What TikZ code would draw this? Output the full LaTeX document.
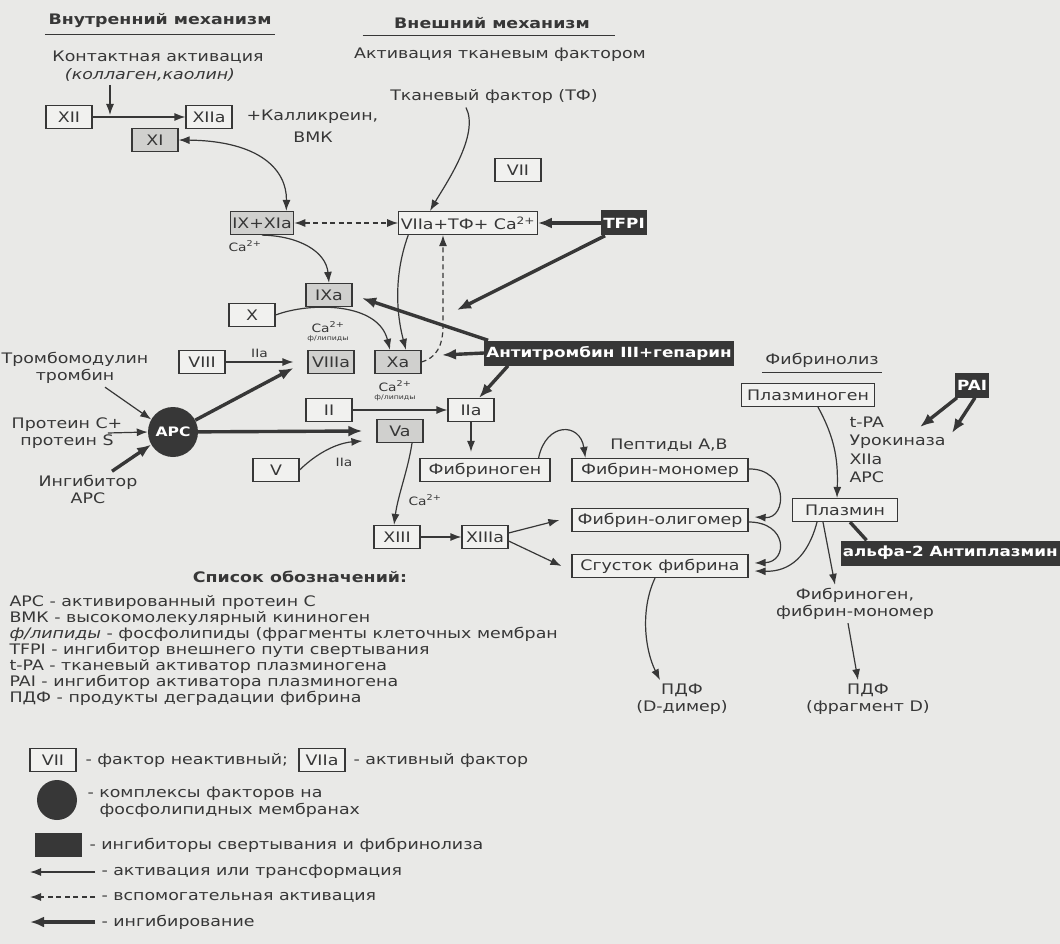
\documentclass[tikz,border=0pt]{standalone}
\usepackage{fontspec}
\setmainfont{DejaVu Sans}[FakeStretch=1.2]
\usetikzlibrary{arrows.meta}
\definecolor{ink}{RGB}{55,55,55}
\definecolor{paper}{RGB}{233,233,231}
\definecolor{boxfill}{RGB}{241,241,239}
\definecolor{shade}{RGB}{208,208,206}

\begin{document}
\begin{tikzpicture}[x=1pt,y=-1pt,
        factor/.style={draw=ink,line width=1.2pt,fill=boxfill,text=ink,font=\fontsize{14.5}{17}\selectfont,inner sep=2pt,minimum width=46pt,minimum height=23pt},
        active/.style={factor,fill=shade},
        inhib/.style={fill=ink,text=white,font=\bfseries\fontsize{14}{17}\selectfont,inner sep=2pt,minimum height=25pt},
        label/.style={text=ink,font=\fontsize{14.5}{17}\selectfont},
        title/.style={text=ink,font=\bfseries\fontsize{14.5}{17}\selectfont},
        small/.style={text=ink,font=\fontsize{11.5}{12}\selectfont},
        tiny/.style={text=ink,font=\fontsize{6.5}{7}\selectfont},
        act/.style={-{Latex[length=11pt,width=8pt]},draw=ink,line width=1.2pt},
        bothact/.style={{Latex[length=11pt,width=8pt]}-{Latex[length=11pt,width=8pt]},draw=ink,line width=1.2pt},
        aux/.style={act,dash pattern=on 5pt off 3.5pt},
        block/.style={-{Latex[length=14pt,width=11pt]},draw=ink,line width=3.4pt}]
    \useasboundingbox (0,0) rectangle (1060,944);
    \fill[paper] (0,0) rectangle (1060,944);

    % headings
    \node[title] (inner) at (160,21) {Внутренний механизм};
    \draw[ink,line width=1.2pt] ([yshift=-3pt]inner.south west) -- ([yshift=-3pt]inner.south east);
    \node[title] (outer) at (492,23) {Внешний механизм};
    \draw[ink,line width=1.2pt] ([xshift=-28pt,yshift=-3pt]outer.south west) -- ([xshift=22pt,yshift=-3pt]outer.south east);
    \node[label] (contact) at (158,57) {Контактная активация};
    \node[label,font=\itshape\fontsize{14.5}{17}\selectfont] (kaolin) at (150,75) {(коллаген,каолин)};
    \node[label] (tfway) at (500,55) {Активация тканевым фактором};
    \node[label] (tf) at (494,97) {Тканевый фактор (ТФ)};

    % intrinsic pathway
    \node[factor] (xii) at (69,117) {XII};
    \node[factor] (xiia) at (209,117) {XIIa};
    \node[label,anchor=west] (kallik) at (243,117) {+Калликреин,};
    \node[label] (vmk) at (313,137) {ВМК};
    \node[active] (xi) at (155,140) {XI};
    \coordinate (contactdrop) at (110,115);
    \draw[act] (kaolin.south -| contactdrop) -- (contactdrop);
    \draw[act] (xii) -- (xiia);
    \node[active] (ixxia) at (262,223) {IX+XIa};
    \node[small] (ca1) at (245,246) {Ca\textsuperscript{2+}};
    \draw[bothact] (xi.east) .. controls (260,141) and (287,170) .. ([xshift=-8pt]ixxia.north east);

    % extrinsic pathway
    \node[factor] (vii) at (518,170) {VII};
    \node[factor] (viia) at (468,223) {VIIa+ТФ+ Ca\textsuperscript{2+}};
    \node[inhib] (tfpi) at (624,223) {TFPI};
    \draw[bothact,dash pattern=on 5pt off 3.5pt] (ixxia) -- (viia);
    \draw[act] ([xshift=-28pt]tf.south) .. controls (480,135) and (445,185) .. ([xshift=-38pt]viia.north);
    \draw[block] (tfpi) -- (viia);
    \coordinate (tfpistop) at (457,310);
    \draw[block] ([xshift=4pt]tfpi.south west) -- (tfpistop);

    % tenase and prothrombinase
    \node[active] (ixa) at (329,295) {IXa};
    \draw[act] (ixxia.south) .. controls (300,236) and (326,252) .. (ixa.north);
    \node[factor] (x) at (252,315) {X};
    \node[active] (viiia) at (331,362) {VIIIa};
    \node[active] (xa) at (398,362) {Xa};
    \node[small] (ca2) at (328,327) {Ca\textsuperscript{2+}};
    \node[tiny] (lip1) at (328,339) {ф/липиды};
    \draw[act] (x.east) .. controls (310,302) and (378,302) .. ([xshift=-8pt]xa.north);
    \node[factor] (viii) at (202,362) {VIII};
    \draw[act] (viii) -- node[small,above] {IIa} ([xshift=-14pt]viiia.west);
    \draw[act] ([xshift=10pt]viia.south west) .. controls (392,280) and (398,320) .. ([xshift=8pt]xa.north);
    \draw[aux] (xa.east) .. controls (436,358) and (443,346) .. (443,326) -- ([xshift=-25pt]viia.south);
    \node[inhib] (atiii) at (609,353) {Антитромбин III+гепарин};
    \coordinate (xastop) at (442,355);
    \draw[block,shorten >=10pt] ([xshift=4pt]atiii.north west) -- (ixa.east);
    \draw[block] (atiii.west) -- (xastop);
    \node[factor] (iia) at (471,410) {IIa};
    \draw[block] ([xshift=24pt]atiii.south west) -- ([xshift=8pt]iia.north);
    \node[small] (ca3) at (395,386) {Ca\textsuperscript{2+}};
    \node[tiny] (lip2) at (395,398) {ф/липиды};
    \node[factor] (ii) at (329,410) {II};
    \draw[act] (ii) -- (iia);
    \node[active] (va) at (400,431) {Va};
    \node[factor] (v) at (276,470) {V};
    \draw[act] (v.east) .. controls (318,452) and (338,443) .. ([xshift=-14pt,yshift=-10pt]va.west);
    \node[small] (iiav) at (344,462) {IIa};

    % protein C
    \node[circle,fill=ink,text=white,minimum size=50pt,inner sep=0pt,font=\bfseries\fontsize{13}{15}\selectfont] (apc) at (173,432) {APC};
    \node[label,align=center] (tmod) at (75,368) {Тромбомодулин\\тромбин};
    \node[label,align=center] (pcs) at (67,433) {Протеин C+\\протеин S};
    \node[label,align=center] (iapc) at (88,489) {Ингибитор\\APC};
    \draw[act] ([xshift=30pt]tmod.south) -- (apc.150);
    \draw[act] ([xshift=-18pt]pcs.east) -- (apc.west);
    \draw[block] ([xshift=24pt]iapc.north) -- (apc.210);
    \draw[block] (apc) -- ([xshift=-14pt,yshift=-6pt]viiia.west);
    \draw[block] (apc) -- ([xshift=-14pt]va.west);

    % fibrin formation
    \node[factor,minimum width=130pt] (fbg) at (485,470) {Фибриноген};
    \node[factor,minimum width=176pt] (mono) at (660,470) {Фибрин-мономер};
    \node[factor,minimum width=176pt] (oligo) at (660,520) {Фибрин-олигомер};
    \node[factor,minimum width=176pt] (clot) at (660,566) {Сгусток фибрина};
    \node[label] (pept) at (669,445) {Пептиды A,B};
    \draw[act] (iia.south) -- ([yshift=6pt]fbg.north -| iia.south);
    \draw[act] ([xshift=-12pt]fbg.north east) .. controls (546,422) and (580,422) .. ([xshift=14pt]mono.north west);
    \draw[act] ([yshift=1pt]mono.east) .. controls (788,468) and (788,519) .. ([xshift=6pt,yshift=3pt]oligo.east);
    \draw[act] ([yshift=-2pt]oligo.east) .. controls (788,522) and (788,562) .. ([xshift=6pt,yshift=3pt]clot.east);
    \node[factor] (xiii) at (397,537) {XIII};
    \node[factor] (xiiia) at (485,537) {XIIIa};
    \node[small] (ca4) at (425,500) {Ca\textsuperscript{2+}};
    \draw[act] ([xshift=12pt]va.south) .. controls (408,470) and (398,495) .. ([xshift=-3pt]xiii.north);
    \draw[act] (xiii) -- (xiiia);
    \draw[act] ([yshift=4pt]xiiia.east) -- ([xshift=-12pt]oligo.west);
    \draw[act] ([yshift=-4pt]xiiia.east) -- ([xshift=-10pt]clot.west);
    \node[label,align=center] (pdfd) at (682,699) {ПДФ\\(D-димер)};
    \draw[act] ([xshift=-5pt]clot.south) .. controls (640,610) and (645,650) .. ([xshift=-22pt]pdfd.north);

    % fibrinolysis
    \node[label] (fibrinolysis) at (822,360) {Фибринолиз};
    \draw[ink,line width=1pt] ([yshift=-2pt]fibrinolysis.south west) -- ([yshift=-2pt]fibrinolysis.south east);
    \node[factor,minimum width=133pt] (plg) at (808,395) {Плазминоген};
    \node[factor,minimum width=105pt] (plasmin) at (845,510) {Плазмин};
    \node[label,align=left,anchor=north west,font=\fontsize{14.5}{18.5}\selectfont] (activators) at (846,413) {t-PA\\Урокиназа\\XIIa\\APC};
    \draw[act] ([xshift=10pt]plg.south) .. controls (836,440) and (838,462) .. ([xshift=-8pt]plasmin.north);
    \node[inhib] (pai) at (972,385) {PAI};
    \coordinate (paistop1) at (920,427);
    \coordinate (paistop2) at (952,433);
    \draw[block] ([xshift=-15pt]pai.south) -- (paistop1);
    \draw[block] ([xshift=3pt]pai.south) -- (paistop2);
    \node[inhib,anchor=east] (a2ap) at (1060,553) {альфа-2 Антиплазмин};
    \draw[ink,line width=3.4pt] ([xshift=26pt]a2ap.north west) -- ([xshift=5pt]plasmin.south);
    \draw[act] ([xshift=-28pt]plasmin.south) .. controls (808,556) and (790,572) .. ([xshift=6pt,yshift=-5pt]clot.east);
    \node[label,align=center] (fdeg) at (855,604) {Фибриноген,\\фибрин-мономер};
    \draw[act] ([xshift=-22pt]plasmin.south) -- ([xshift=-20pt]fdeg.north);
    \node[label,align=center] (pdfdd) at (868,699) {ПДФ\\(фрагмент D)};
    \draw[act] ([xshift=-7pt]fdeg.south) -- ([xshift=-10pt]pdfdd.north);

    % legend
    \node[title] (legendtitle) at (300,577) {Список обозначений:};
    \node[label,align=left,anchor=north west,font=\fontsize{14.5}{16}\selectfont] (abbrev) at (6,592) {APC - активированный протеин C\\ВМК - высокомолекулярный кининоген\\\textit{ф/липиды} - фосфолипиды (фрагменты клеточных мембран\\TFPI - ингибитор внешнего пути свертывания\\t-PA - тканевый активатор плазминогена\\PAI - ингибитор активатора плазминогена\\ПДФ - продукты деградации фибрина};
    \node[factor] (keyvii) at (53,760) {VII};
    \node[label,anchor=west] (keyviitext) at (82,760) {- фактор неактивный;};
    \node[factor] (keyviia) at (322,760) {VIIa};
    \node[label,anchor=west] (keyviiatext) at (350,760) {- активный фактор};
    \node[circle,fill=ink,minimum size=40pt] (keycircle) at (57,800) {};
    \node[label,align=left,anchor=west,font=\fontsize{14.5}{17}\selectfont] (keycircletext) at (84,802) {- комплексы факторов на\\\hspace*{12pt}фосфолипидных мембранах};
    \node[fill=ink,minimum width=47pt,minimum height=24pt] (keyrect) at (58,845) {};
    \node[label,anchor=west] (keyrecttext) at (86,845) {- ингибиторы свертывания и фибринолиза};
    \coordinate (keyacta) at (95,872);
    \coordinate (keyactb) at (30,872);
    \coordinate (keyauxa) at (95,897);
    \coordinate (keyauxb) at (30,897);
    \coordinate (keyblocka) at (95,922);
    \coordinate (keyblockb) at (30,922);
    \draw[act] (keyacta) -- (keyactb);
    \draw[aux] (keyauxa) -- (keyauxb);
    \draw[block] (keyblocka) -- (keyblockb);
    \node[label,anchor=west] (keyacttext) at (98,872) {- активация или трансформация};
    \node[label,anchor=west] (keyauxtext) at (98,897) {- вспомогательная активация};
    \node[label,anchor=west] (keyblocktext) at (98,922) {- ингибирование};
\end{tikzpicture}
\end{document}
